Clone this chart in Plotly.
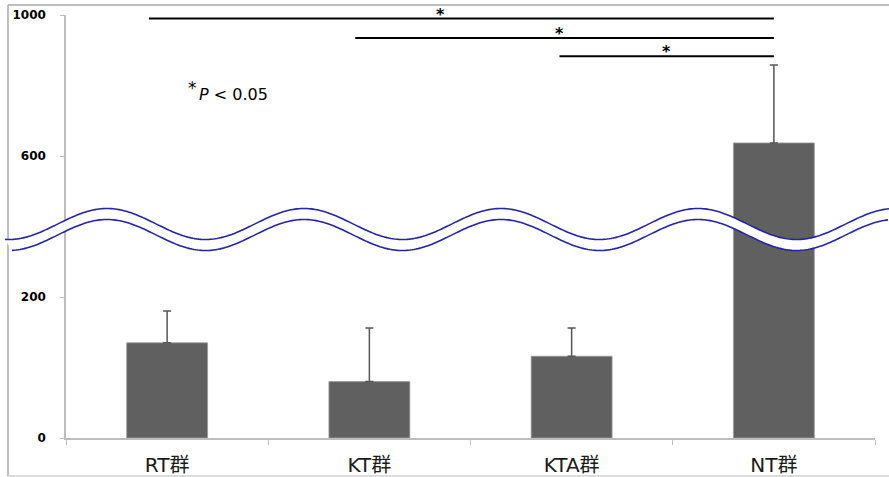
import numpy as np
import plotly.graph_objects as go

categories = ["RT群", "KT群", "KTA群", "NT群"]
means = [135, 80, 116, 637]
sd_upper = [45, 76, 40, 221]
tick_values = [0, 200, 600, 1000]
tick_labels = ["0", "200", "600", "1000"]
sig_levels = [990, 935, 883]          # height of significance bars
sig_starts = [-0.09, 0.93, 1.94]      # start position (category index units)
sig_star_x = [1.35, 1.94, 2.47]       # asterisk positions (category index units)
sig_end = 3.0

W, H = 889, 477
ML, MR, MT, MB = 66, 14, 15, 39
PW, PH = W - ML - MR, H - MT - MB


def disp(v):
    """Broken axis: 0-200 linear, above 200 compressed by 2."""
    v = np.asarray(v, dtype=float)
    return np.where(v <= 200, v, 200 + (v - 200) / 2.0)


y_disp = disp(means)
err_disp = disp(np.array(means) + np.array(sd_upper)) - y_disp

fig = go.Figure()
fig.add_trace(go.Bar(
    x=categories, y=y_disp, width=0.4,
    marker=dict(color="#606060", line=dict(color="#9a9a9a", width=0.8)),
    error_y=dict(type="data", array=err_disp, arrayminus=[0]*4, symmetric=False,
                 color="#555555", thickness=1.5, width=4),
    showlegend=False, hoverinfo="skip",
))

font_main = "DejaVu Sans, Verdana, Noto Sans CJK JP, sans-serif"


def px2paper(xp, yp):
    return (np.asarray(xp) - ML) / PW, (H - MB - np.asarray(yp)) / PH


shapes = []
# significance bars
for lvl, s in zip(sig_levels, sig_starts):
    yd = float(disp(lvl))
    shapes.append(dict(type="line", xref="x", yref="y", x0=s, x1=sig_end, y0=yd, y1=yd,
                       line=dict(color="black", width=2)))

# wave (axis-break symbol)
period, phase, amp = 197.0, 107.0, 15.5


def wave(x, c):
    return c - amp * np.cos(2 * np.pi * (x - phase) / period)


xu = np.arange(5, W + 1, 2.0)
xl = np.arange(12, W + 1, 2.0)
yu = wave(xu, 224.0)
yl = wave(xl, 235.0)


def to_path(xs, ys, close=False):
    px, py = px2paper(xs, ys)
    pts = ["{:.5f},{:.5f}".format(a, b) for a, b in zip(px, py)]
    p = "M" + " L".join(pts)
    return p + (" Z" if close else "")


fill_x = np.concatenate([xu, xl[::-1]])
fill_y = np.concatenate([yu, yl[::-1]])
shapes.append(dict(type="path", xref="paper", yref="paper", path=to_path(fill_x, fill_y, True),
                   fillcolor="white", line=dict(width=0), layer="above"))
for xs, ys in [(xu, yu), (xl, yl)]:
    shapes.append(dict(type="path", xref="paper", yref="paper", path=to_path(xs, ys),
                       line=dict(color="#2424a6", width=1.6), layer="above"))

# outer border (top, left, bottom)
bx, by = px2paper([8, W], [5, 476])
shapes.append(dict(type="line", xref="paper", yref="paper", x0=bx[0], x1=bx[1], y0=by[0], y1=by[0],
                   line=dict(color="#a8a8a8", width=1.5), layer="below"))
shapes.append(dict(type="line", xref="paper", yref="paper", x0=bx[0], x1=bx[0], y0=by[0], y1=by[1],
                   line=dict(color="#a8a8a8", width=1.5), layer="below"))
shapes.append(dict(type="line", xref="paper", yref="paper", x0=bx[0], x1=bx[1], y0=by[1], y1=by[1],
                   line=dict(color="#d0d0d0", width=1.5), layer="below"))

annotations = []
for lvl, xs_ in zip(sig_levels, sig_star_x):
    annotations.append(dict(x=xs_, y=float(disp(lvl)), xref="x", yref="y", text="<b>*</b>",
                            showarrow=False, yanchor="bottom", yshift=-7,
                            font=dict(size=16, color="black", family=font_main)))
ax_, ay_ = px2paper(192, 88)
annotations.append(dict(x=float(ax_), y=float(ay_), xref="paper", yref="paper",
                        text="*", showarrow=False, xanchor="center", yanchor="middle",
                        font=dict(size=17, color="black", family=font_main)))
tx, ty = px2paper(197, 94)
annotations.append(dict(x=float(tx), y=float(ty), xref="paper", yref="paper",
                        text="<i>P</i> &lt; 0.05",
                        showarrow=False, xanchor="left", yanchor="middle",
                        font=dict(size=16, color="black", family=font_main)))

fig.update_layout(
    width=W, height=H,
    margin=dict(l=ML, r=MR, t=MT, b=MB),
    paper_bgcolor="white", plot_bgcolor="white",
    bargap=0.6,
    shapes=shapes, annotations=annotations,
    xaxis=dict(type="category", showline=True, linecolor="#bdbdbd", linewidth=1.5,
               ticks="outside", tickson="boundaries", ticklen=5, tickcolor="#bdbdbd",
               tickwidth=1.2, showgrid=False, zeroline=False, automargin=False,
               tickfont=dict(size=20, color="#1a1a1a", family=font_main),
               ticklabelstandoff=8, range=[-0.5, 3.5]),
    yaxis=dict(range=[0, 600], showline=True, linecolor="#bdbdbd", linewidth=1.5,
               ticks="outside", ticklen=4, tickcolor="#bdbdbd", tickwidth=1.2,
               tickvals=[float(v) for v in disp(tick_values)], ticktext=tick_labels,
               showgrid=False, zeroline=False, ticklabelstandoff=12, automargin=False,
               tickfont=dict(size=12, color="black", family="DejaVu Sans", weight="bold")),
)

fig.write_html("out.html", config={"displayModeBar": False},
               post_script="document.body.style.margin='0';document.body.style.overflow='hidden';")
